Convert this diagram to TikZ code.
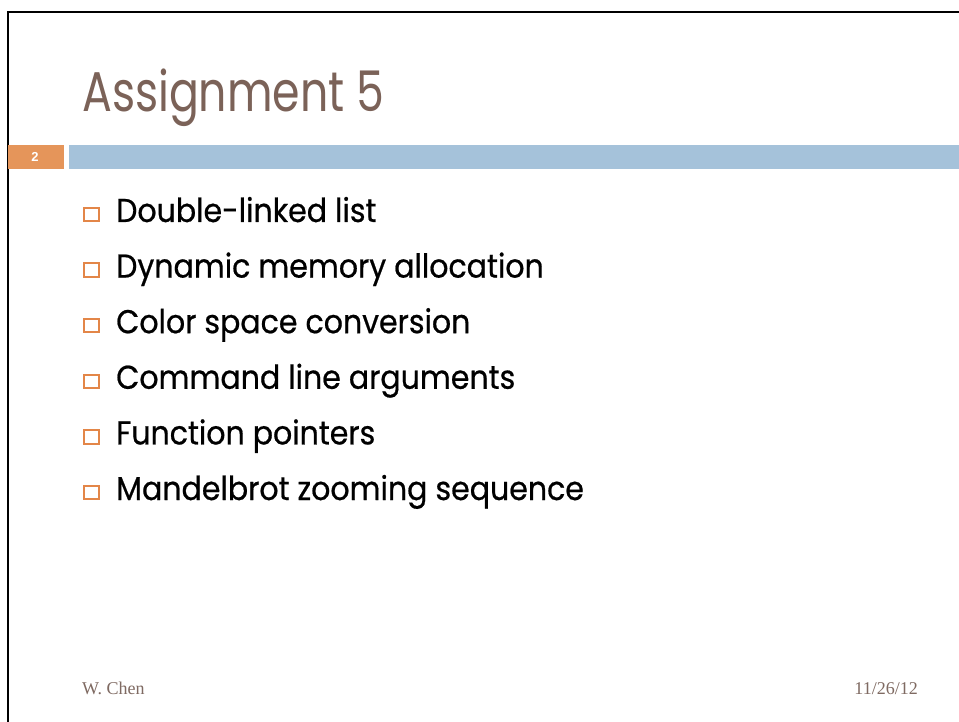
\documentclass[tikz,border=0pt]{standalone}
\usepackage{fontspec}
\setmainfont{Poppins}
\newfontfamily\titlefont[FakeStretch=0.79]{Poppins}
\newfontfamily\itemfont[FakeStretch=0.91,FakeBold=0.6]{Poppins}
\newfontfamily\footfont{Liberation Serif}
\newfontfamily\numfont{Liberation Sans}
\definecolor{titlebrown}{HTML}{7B6258}
\definecolor{footbrown}{HTML}{7F6A62}
\definecolor{barorange}{HTML}{E5955A}
\definecolor{barblue}{HTML}{A5C2DA}
\definecolor{boxorange}{HTML}{E38648}
\tikzset{
  itemtext/.style={anchor=base west, inner sep=0pt, font=\itemfont\fontsize{33}{33}\selectfont, text=black},
  bulletbox/.style={draw=boxorange, line width=2pt, minimum width=15pt, minimum height=13.5pt, inner sep=0pt, outer sep=0pt},
  foot/.style={anchor=base west, inner sep=0pt, font=\footfont\fontsize{18}{18}\selectfont, text=footbrown}
}
\begin{document}
\begin{tikzpicture}[x=1pt,y=-1pt]
\useasboundingbox (0,0) rectangle (959,722);
\fill[white] (0,0) rectangle (959,722);
% frame
\draw[line width=1.6pt] (8,722) -- (8,12) -- (959,12);
% bars
\fill[barorange] (8,145) rectangle (64,169);
\fill[barblue] (69,145) rectangle (959,169);
\node[text=white, font=\numfont\bfseries\fontsize{13}{13}\selectfont, inner sep=0pt] (num) at (35,156.5) {2};
% title
\node[anchor=base west, inner sep=0pt, text=titlebrown, font=\titlefont\fontsize{56}{56}\selectfont] (title) at (82,112) {Assignment 5};
% items
\foreach \t [count=\i from 0] in {Double-linked list, Dynamic memory allocation, Color space conversion, Command line arguments, Function pointers, Mandelbrot zooming sequence}{
  \node[itemtext] (item\i) at (116,222+55.6*\i) {\t};
  \node[bulletbox] (box\i) at (91.5,214.5+55.6*\i) {};
}
% footer
\node[foot] (author) at (82,694) {W. Chen};
\node[foot, anchor=base east] (date) at (918,694) {11/26/12};
\end{tikzpicture}
\end{document}
